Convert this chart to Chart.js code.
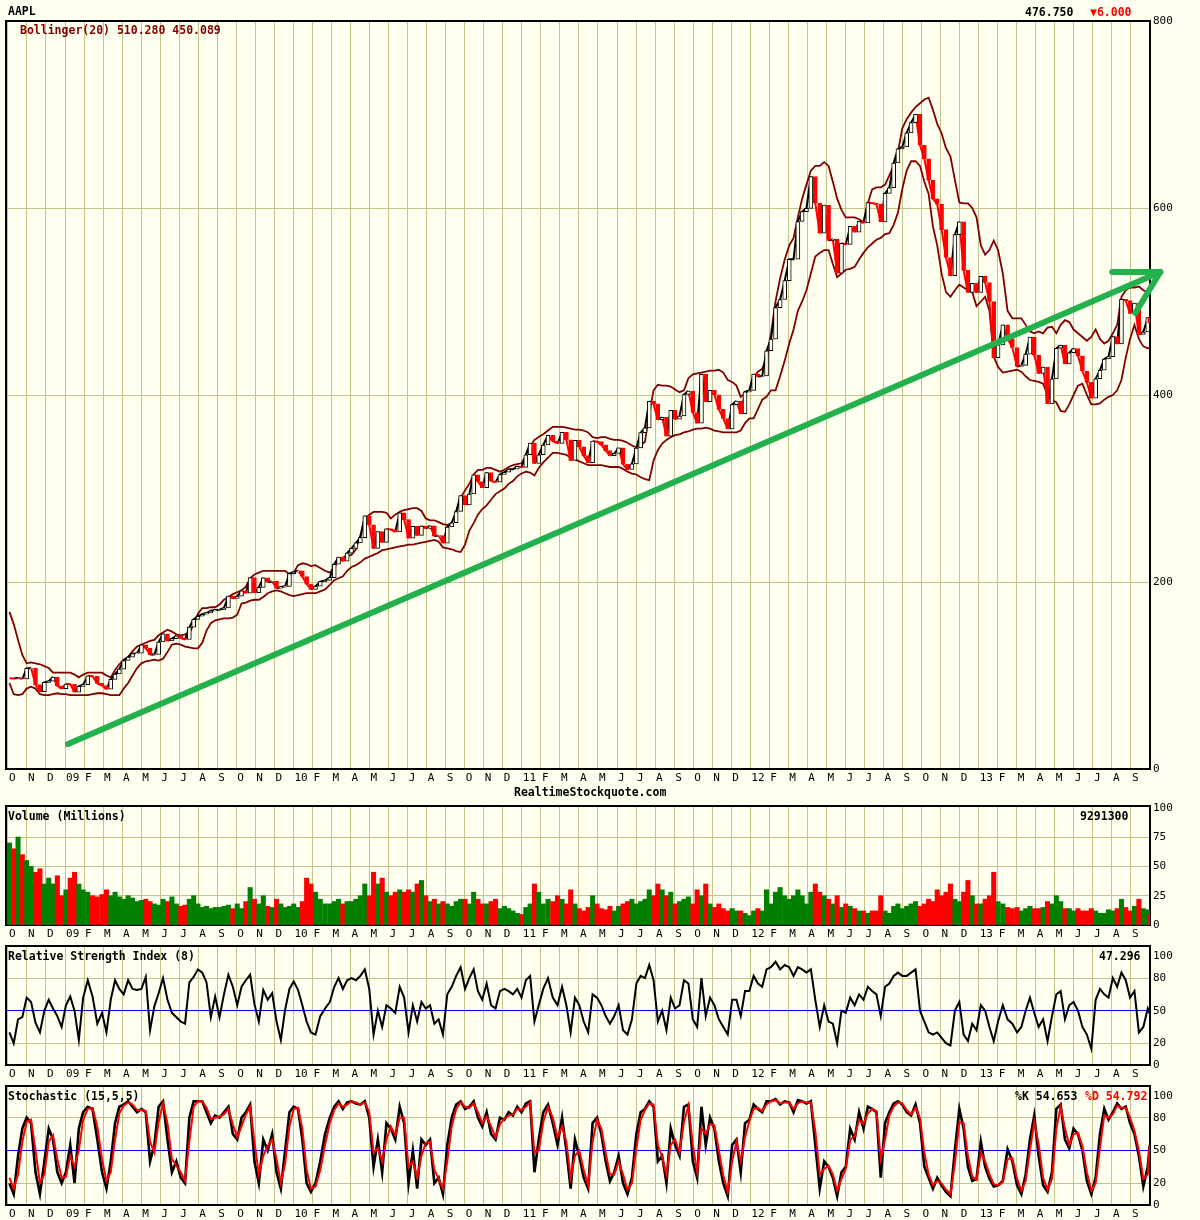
<!DOCTYPE html>
<html>
<head>
<meta charset="utf-8">
<script src="https://cdn.jsdelivr.net/npm/chart.js"></script>
<style>
body { margin: 0; background: #fffff0; }
#wrap { position: relative; width: 1200px; height: 1220px; overflow: hidden; background: #fffff0; font-family: "DejaVu Sans Mono", monospace; }
canvas { position: absolute; left: 0; }
.t { position: absolute; font-weight: bold; font-size: 11.5px; line-height: 12px; white-space: nowrap; z-index: 2; color: #000; }
</style>
</head>
<body>
<div id="wrap">
  <canvas id="cMain"></canvas>
  <canvas id="cVol"></canvas>
  <canvas id="cRsi"></canvas>
  <canvas id="cSto"></canvas>
  <div class="t" style="left:8px;top:5px">AAPL</div>
  <div class="t" style="left:1025px;top:6px">476.750</div>
  <div class="t" style="left:1090px;top:6px;color:#ff0000">▼6.000</div>
  <div class="t" style="left:20px;top:24px;color:#800000">Bollinger(20) 510.280 450.089</div>
  <div class="t" style="left:514px;top:786px">RealtimeStockquote.com</div>
  <div class="t" style="left:8px;top:810px">Volume (Millions)</div>
  <div class="t" style="left:1080px;top:810px">9291300</div>
  <div class="t" style="left:8px;top:950px">Relative Strength Index (8)</div>
  <div class="t" style="left:1099px;top:950px">47.296</div>
  <div class="t" style="left:8px;top:1090px">Stochastic (15,5,5)</div>
  <div class="t" style="left:1015px;top:1090px">%K 54.653</div>
  <div class="t" style="left:1085px;top:1090px;color:#ff0000">%D 54.792</div>
</div>
<script>
// month tick labels, Oct 2008 .. Sep 2013
const monthLabels = ['O','N','D',
  '09','F','M','A','M','J','J','A','S','O','N','D',
  '10','F','M','A','M','J','J','A','S','O','N','D',
  '11','F','M','A','M','J','J','A','S','O','N','D',
  '12','F','M','A','M','J','J','A','S','O','N','D',
  '13','F','M','A','M','J','J','A','S'];

// weekly (Friday) values from 2008-10-03, last entry = 2013-09-30
const closes = [
  97.1, 96.8, 97.4, 96.4, 107.6,   108.0, 90.2, 82.6, 92.7,   94.0, 98.3, 88.9, 85.8,
  90.8, 90.6, 82.3, 88.4, 90.1,   99.7, 99.2, 91.5, 89.3,   85.3, 95.9, 101.6, 106.9,
  116.0, 119.6, 123.4, 123.9,   132.7, 129.2, 122.4, 122.5, 135.8,   144.7, 137.0, 139.5, 142.4,
  140.0, 138.5, 151.8, 160.0, 163.4,   165.5, 166.8, 169.2, 170.1,   170.3, 172.2, 185.0, 182.4,
  184.9, 190.5, 188.1, 204.6, 188.5,   194.3, 204.5, 199.9, 200.6,   193.3, 194.7, 195.4, 209.0,
  210.7, 212.0, 205.9, 197.8, 192.1,   195.5, 200.4, 201.7, 204.6,   219.0, 226.6, 222.3, 230.9,
  236.0, 241.8, 247.4, 270.8, 261.1,   235.9, 253.8, 242.3, 256.9,   256.0, 253.5, 274.1, 266.7,
  246.9, 259.6, 249.9, 259.9, 257.3,   260.1, 249.1, 249.6, 241.6,   258.8, 263.4, 275.4, 292.3,
  282.5, 294.1, 314.7, 307.5, 301.0,   317.1, 308.0, 306.7, 315.0,   317.4, 320.6, 320.6, 323.6, 322.6,
  336.1, 348.5, 326.7, 336.1,   346.5, 356.9, 350.6, 348.2,   360.0, 352.0, 330.0, 351.5,
  344.6, 335.1, 327.5, 350.7, 350.1,   346.7, 340.5, 335.2, 337.4,   343.4, 325.9, 320.3, 326.4,
  343.3, 359.7, 364.9, 393.3, 390.5,   373.6, 376.2, 356.0, 383.6,   374.1, 377.5, 400.5, 404.3, 381.3,
  369.8, 422.0, 392.9, 405.0,   400.2, 384.6, 374.9, 363.6,   389.7, 393.6, 380.0, 403.4, 405.0,
  422.4, 419.8, 420.3, 447.3,   459.7, 493.4, 502.1, 522.4,   545.2, 545.2, 585.6, 596.1, 599.6,
  633.7, 605.2, 573.0, 603.0,   565.3, 566.7, 530.4, 562.3,   561.0, 580.3, 574.1, 585.7, 584.0,
  605.9, 605.0, 604.3, 585.2,   615.7, 621.7, 648.1, 663.2, 665.2,   680.4, 691.3, 700.1, 667.1,
  652.6, 629.7, 609.8, 604.0,   576.8, 547.1, 527.7, 571.5, 585.3,   533.3, 509.8, 519.3, 509.6,
  527.0, 520.3, 500.0, 439.9,   453.6, 475.0, 460.2, 450.8,   430.5, 431.7, 443.7, 461.9, 442.7,
  423.2, 429.8, 390.5, 417.2,   450.0, 453.0, 433.3, 445.2, 449.7,   441.8, 425.4, 413.5, 396.5,
  417.4, 426.5, 438.5, 441.0,   462.5, 454.5, 502.3, 501.0, 487.2,   498.2, 464.9, 467.4, 482.8,
  476.75
];

const bollUpper = [
  168, 155, 138, 122, 113,   114, 113, 112, 110,   108, 103, 103, 103,
  103, 103, 101, 98, 101,   103, 103, 103, 103,   100, 98, 106, 112,
  117, 120, 126, 131,   133, 135, 137, 138, 143,   146, 149, 147, 144,
  143, 144, 145, 155, 166,   172, 172, 173, 173,   176, 181, 184, 187,
  189, 191, 195, 204, 208,   210, 212, 212, 212,   212, 212, 212, 208,
  210, 218, 220, 219, 217,   218, 215, 212, 210,   215, 224, 226, 228,
  229, 235, 250, 268, 272,   275, 275, 275, 274,   268, 272, 275, 277,
  278, 279, 279, 276, 268,   266, 266, 264, 262,   261, 263, 275, 290,
  298, 305, 315, 320, 320,   322, 322, 320, 318,   320, 323, 325, 326, 327,
  335, 345, 352, 355,   358, 362, 366, 366,   366, 365, 364, 363,
  363, 362, 360, 355, 354,   355, 355, 353, 352,   352, 351, 349, 346,
  344, 346, 350, 380, 405,   411, 410, 410, 409,   406, 403, 405, 418, 422,
  423, 424, 425, 426,   426, 427, 424, 416,   414, 410, 398, 402, 405,
  418, 425, 428, 440,   465, 500, 525, 545,   560, 568, 590, 610, 625,
  640, 645, 645, 649,   645, 628, 610, 598,   590, 590, 590, 588, 585,
  605, 620, 622, 622,   625, 635, 645, 660, 685,   695, 702, 708, 712,
  716, 718, 705, 690,   680, 664, 655, 630, 606,   605, 605, 600, 590,
  560, 550, 555, 565,   555, 530, 490, 482,   482, 482, 475, 468, 466,
  468, 466, 472, 473,   466, 475, 480, 478, 470,   466, 462, 458, 462,
  470, 460, 455, 458,   466, 475, 505, 512, 515,   515, 516, 512, 510,
  510.28
];

const bollLower = [
  92, 80, 79, 80, 86,   88, 86, 80, 79,   79, 80, 81, 80,
  80, 79, 79, 79, 79,   79, 80, 81, 81,   80, 79, 79, 79,
  86, 92, 100, 108,   113, 115, 116, 117, 116,   118, 125, 133, 134,
  133, 131, 130, 129, 129,   135, 148, 156, 159,   160, 161, 161, 162,
  165, 177, 178, 180, 181,   181, 184, 188, 190,   191, 190, 188, 186,
  185, 186, 187, 188, 188,   188, 190, 192, 197,   202, 204, 206, 212,
  216, 218, 221, 225, 227,   229, 231, 234, 235,   236, 237, 238, 239,
  240, 240, 241, 242, 243,   244, 245, 243, 237,   236, 235, 233, 232,
  240, 255, 263, 272, 278,   282, 288, 294, 297,   300, 305, 308, 313, 316,
  318, 317, 314, 322,   328, 333, 338, 338,   337, 336, 333, 331,
  329, 327, 325, 325, 325,   325, 324, 323, 323,   323, 321, 318, 316,
  315, 312, 310, 309, 330,   341, 348, 352, 355,   357, 358, 360, 361, 363,
  364, 364, 365, 364,   362, 361, 360, 360,   360, 360, 362, 370, 375,
  375, 385, 395, 398,   405, 405, 420, 437,   455, 470, 490, 500, 512,
  530, 548, 552, 555,   555, 540, 526, 530,   534, 535, 537, 545, 552,
  558, 562, 566, 568,   572, 573, 582, 595, 620,   640, 650, 650, 645,
  628, 615, 580, 560,   530, 510, 505, 512, 518,   515, 512, 510, 495,
  500, 505, 490, 441,   430, 424, 425, 426,   427, 425, 420, 416, 415,
  414, 412, 400, 395,   392, 383, 382, 390, 400,   410, 412, 400, 390,
  390, 391, 395, 398,   400, 405, 416, 440, 460,   475, 460, 452, 450,
  450.09
];

const volume = [
  70, 65, 75, 60, 55,   50, 45, 48, 35,   40, 35, 42, 25,
  30, 40, 45, 35, 30,   28, 25, 24, 26,   30, 25, 28, 24,
  22, 25, 23, 20,   21, 22, 20, 18, 17,   22, 20, 24, 18,
  16, 17, 22, 25, 18,   15, 16, 14, 15,   15, 16, 17, 14,
  18, 14, 20, 32, 22,   18, 25, 16, 15,   22, 18, 15, 16,
  18, 15, 20, 40, 35,   28, 22, 18, 18,   20, 22, 18, 20,
  20, 22, 25, 35, 25,   45, 35, 40, 28,   25, 28, 30, 28,
  30, 28, 35, 38, 25,   20, 22, 18, 20,   18, 16, 20, 22,
  22, 18, 28, 22, 18,   18, 20, 22, 14,   16, 14, 12, 10, 9,
  15, 18, 35, 28,   18, 22, 20, 25,   22, 18, 30, 18,
  14, 12, 15, 25, 18,   14, 13, 16, 12,   16, 18, 20, 22,
  18, 20, 22, 30, 25,   35, 30, 25, 28,   18, 20, 22, 24, 18,
  30, 25, 35, 18,   15, 18, 14, 12,   14, 12, 12, 10, 8,
  12, 14, 12, 30,   18, 28, 32, 25,   22, 25, 30, 25, 18,
  28, 35, 28, 25,   22, 18, 25, 15,   18, 16, 14, 12, 12,
  10, 12, 12, 25,   12, 10, 16, 18, 14,   16, 18, 20, 16,
  18, 22, 20, 30,   25, 28, 35, 22, 20,   28, 38, 25, 18,
  18, 22, 25, 45,   20, 18, 15, 14,   15, 12, 14, 16, 14,
  14, 15, 20, 18,   25, 20, 14, 14, 12,   14, 12, 12, 14,
  12, 10, 10, 13,   12, 14, 22, 15, 12,   16, 22, 14, 13,
  9.29
];

const rsi = [
  30, 20, 42, 44, 62,   58, 39, 30, 50,   60, 52, 45, 35,
  55, 63, 50, 23, 62,   78, 63, 38, 48,   30, 60, 78, 70,
  65, 78, 70, 69,   70, 81, 32, 54, 66,   80, 60, 48, 44,
  40, 38, 76, 81, 88,   85, 76, 44, 63,   44, 65, 83, 72,
  55, 72, 78, 83, 56,   40, 69, 60, 66,   40, 23, 51, 70,
  77, 69, 55, 40, 30,   28, 45, 52, 58,   72, 80, 70, 78,
  80, 78, 82, 88, 70,   28, 50, 35, 55,   52, 48, 72, 62,
  30, 55, 40, 58, 52,   55, 38, 42, 28,   65, 72, 82, 90,
  70, 80, 88, 68, 60,   75, 55, 52, 68,   70, 68, 65, 70, 62,
  78, 82, 40, 55,   70, 80, 62, 55,   72, 55, 30, 62,
  55, 40, 30, 65, 62,   55, 45, 38, 45,   55, 32, 28, 42,
  75, 82, 80, 92, 78,   40, 50, 32, 62,   52, 55, 78, 75, 42,
  35, 80, 45, 62,   55, 42, 35, 28,   60, 60, 45, 68, 68,
  82, 75, 72, 88,   90, 95, 88, 92,   90, 82, 90, 88, 85,
  88, 60, 35, 55,   40, 38, 20, 50,   48, 62, 55, 65, 60,
  72, 68, 65, 45,   72, 75, 82, 85, 82,   82, 85, 88, 50,
  40, 30, 28, 30,   25, 20, 18, 50, 58,   28, 22, 38, 32,
  55, 50, 35, 22,   40, 55, 42, 38,   30, 35, 50, 62, 48,
  35, 42, 22, 45,   65, 68, 42, 55, 58,   50, 35, 28, 15,
  60, 70, 65, 62,   80, 72, 85, 78, 62,   68, 30, 35, 52,
  47.3
];

const stochK = [
  20, 10, 45, 70, 80,   75, 30, 10, 40,   70, 60, 30, 20,
  30, 55, 20, 70, 85,   90, 88, 60, 30,   15, 40, 75, 90,
  92, 95, 90, 85,   88, 85, 40, 55, 90,   95, 60, 30, 40,
  25, 20, 80, 95, 95,   95, 85, 75, 82,   80, 85, 90, 65,
  60, 80, 85, 92, 40,   20, 60, 50, 65,   30, 15, 50, 85,
  90, 88, 60, 20, 12,   20, 40, 65, 80,   90, 95, 88, 94,
  95, 93, 92, 95, 80,   35, 60, 30, 75,   70, 60, 90, 75,
  20, 50, 15, 60, 55,   60, 20, 25, 10,   55, 80, 92, 95,
  88, 90, 95, 80, 72,   85, 65, 60, 80,   78, 85, 82, 90, 85,
  93, 95, 30, 60,   85, 92, 75, 55,   80, 50, 15, 60,
  45, 25, 15, 75, 80,   65, 40, 22, 30,   45, 20, 10, 25,
  65, 85, 88, 95, 90,   40, 45, 20, 70,   55, 45, 90, 92, 40,
  25, 90, 55, 80,   70, 40, 20, 8,   55, 60, 30, 75, 78,
  92, 88, 85, 95,   95, 97, 92, 95,   94, 85, 96, 95, 93,
  95, 55, 15, 40,   35, 25, 8, 30,   35, 70, 60, 85, 70,
  90, 88, 85, 25,   75, 85, 93, 95, 92,   85, 82, 92, 75,
  35, 25, 15, 25,   18, 12, 8, 50, 88,   70, 35, 22, 24,
  58, 35, 24, 17,   18, 22, 51, 40,   18, 10, 28, 60, 82,
  45, 18, 12, 30,   88, 92, 60, 52, 70,   65, 50, 22, 10,
  25, 65, 88, 78,   85, 93, 88, 90, 75,   65, 45, 17, 35,
  54.65
];

const stochD = [
  25, 15, 28, 58, 76,   78, 50, 20, 28,   58, 64, 42, 25,
  26, 45, 35, 50, 78,   88, 89, 72, 42,   22, 30, 60, 84,
  91, 94, 92, 87,   87, 86, 58, 48, 76,   93, 75, 42, 36,
  30, 22, 58, 90, 95,   95, 89, 79, 80,   81, 83, 88, 74,
  62, 72, 83, 90, 58,   28, 45, 54, 60,   42, 20, 38, 72,
  88, 89, 70, 32, 15,   17, 32, 55, 75,   87, 93, 90, 92,
  95, 94, 92, 94, 85,   48, 52, 40, 60,   72, 64, 80, 80,
  35, 40, 25, 45, 57,   58, 32, 24, 15,   40, 72, 88, 94,
  90, 89, 93, 85, 75,   81, 72, 62, 74,   79, 82, 83, 88, 87,
  90, 94, 48, 50,   76, 90, 80, 62,   72, 58, 25, 45,
  50, 32, 18, 58, 78,   70, 48, 28, 28,   40, 28, 14, 20,
  52, 78, 87, 93, 92,   55, 44, 28, 55,   60, 48, 76, 91, 55,
  30, 70, 65, 74,   73, 50, 27, 12,   40, 58, 40, 62, 77,
  88, 89, 86, 92,   95, 96, 93, 94,   94, 88, 93, 95, 94,
  94, 68, 28, 33,   36, 28, 13, 24,   33, 60, 63, 78, 74,
  84, 88, 86, 42,   60, 82, 90, 94, 93,   87, 83, 89, 80,
  48, 28, 18, 22,   20, 14, 10, 38, 76,   75, 45, 26, 23,
  48, 40, 28, 19,   18, 21, 42, 43,   24, 13, 22, 50, 76,
  56, 25, 14, 24,   70, 90, 70, 55, 65,   66, 54, 30, 13,
  20, 52, 82, 80,   83, 91, 89, 89, 80,   68, 50, 24, 28,
  54.79
];

// hand-drawn green trend arrow, in (month, price) units
const trendX = [3.16, 60.54], trendY = [26.7, 531.6];
const arrowBarX = [58.02, 60.54], arrowBarY = [531.6, 531.6];
const arrowWingX = [59.23, 60.54], arrowWingY = [487.7, 531.6];

const priceTicks = [0, 200, 400, 600, 800];
const volTicks = [0, 25, 50, 75, 100];
const oscTicks = [0, 20, 50, 80, 100];

// ---------------------------------------------------------------
const GRID = '#c4c48a';
const NONE = 'rgba(0,0,0,0)';
const tickFont = {family: 'DejaVu Sans Mono', size: 11};
const DAY = 864e5;

function monthPos(i) {
  const t = Date.UTC(2008, 9, 3) + (i < 261 ? i * 7 : 260 * 7 + 3) * DAY;
  const d = new Date(t);
  const dim = new Date(Date.UTC(d.getUTCFullYear(), d.getUTCMonth() + 1, 0)).getUTCDate();
  return (d.getUTCFullYear() - 2008) * 12 + d.getUTCMonth() - 9 + (d.getUTCDate() - 0.5) / dim;
}
const xs = closes.map((_, i) => monthPos(i));
const pts = arr => arr.map((v, i) => ({x: xs[i], y: v}));
const pair = (ax, ay) => ax.map((x, i) => ({x, y: ay[i]}));
const down = closes.map((v, i) => i > 0 && v < closes[i - 1]);

const frame = {
  id: 'frame',
  beforeDatasetsDraw(c) {
    const {ctx, chartArea: a} = c;
    ctx.save();
    ctx.strokeStyle = '#000';
    ctx.lineWidth = 2;
    ctx.strokeRect(a.left, a.top, a.right - a.left, a.bottom - a.top);
    ctx.restore();
  }
};

const xAxis = () => ({
  type: 'linear', min: -0.1, max: 60, offset: false,
  afterBuildTicks: s => { s.ticks = monthLabels.map((_, m) => ({value: m})); },
  afterFit: s => { s.height = 16; },
  grid: {color: GRID, drawTicks: false, offset: false},
  border: {display: false},
  ticks: {align: 'start', labelOffset: 1, padding: 3, maxRotation: 0, autoSkip: false,
    color: '#000', font: tickFont, callback: v => monthLabels[v] ?? ''}
});

const yAxis = (min, max, ticks, colorOf) => ({
  type: 'linear', position: 'right', min, max,
  afterBuildTicks: s => { s.ticks = ticks.map(v => ({value: v})); },
  afterFit: s => { s.width = 50; },
  grid: {drawTicks: false, color: ctx => ctx.tick ? colorOf(ctx.tick.value) : NONE},
  border: {display: false},
  ticks: {padding: 3, color: '#000', font: tickFont}
});

function panel(id, top, plotTop, plotBottom, datasets, y) {
  const cv = document.getElementById(id);
  cv.style.top = top + 'px';
  cv.width = 1200;
  cv.height = plotBottom - top + 16;
  return new Chart(cv, {
    type: 'line',
    data: {datasets},
    options: {
      responsive: false, animation: false, devicePixelRatio: 1, events: [],
      layout: {padding: {top: plotTop - top, left: 6, right: 0, bottom: 0}},
      elements: {point: {radius: 0}, line: {tension: 0}},
      plugins: {legend: {display: false}, tooltip: {enabled: false}},
      scales: {x: xAxis(), y}
    },
    plugins: [frame]
  });
}

const green = {type: 'line', borderColor: '#22b14c', borderWidth: 6, borderCapStyle: 'round', clip: false};

// price panel
panel('cMain', 0, 21, 769, [
  {...green, data: pair(trendX, trendY)},
  {...green, data: pair(arrowBarX, arrowBarY)},
  {...green, data: pair(arrowWingX, arrowWingY)},
  {type: 'bar', data: closes.map((v, i) => ({x: xs[i], y: [i ? closes[i - 1] : v, v]})),
    backgroundColor: down.map(d => d ? '#ff0000' : '#fffff0'),
    borderColor: down.map(d => d ? '#ff0000' : '#000000'),
    borderWidth: 1, borderSkipped: false, barThickness: 4},
  {type: 'line', data: pts(closes), borderWidth: 2, borderColor: '#000',
    segment: {borderColor: c => c.p1.parsed.y < c.p0.parsed.y ? '#ff0000' : '#000000'}},
  {type: 'line', data: pts(bollUpper), borderColor: '#800000', borderWidth: 1.8},
  {type: 'line', data: pts(bollLower), borderColor: '#800000', borderWidth: 1.8}
], yAxis(0, 800, priceTicks, v => (v > 0 && v < 800) ? GRID : NONE));

// volume panel
panel('cVol', 790, 806, 925, [
  {type: 'bar', data: pts(volume), barThickness: 4.4,
    backgroundColor: down.map(d => d ? '#ff0000' : '#008000')}
], yAxis(0, 101.5, volTicks, v => (v > 0 && v < 100) ? GRID : NONE));

// RSI panel
panel('cRsi', 930, 946, 1065, [
  {type: 'line', data: pts(rsi), borderColor: '#000', borderWidth: 2}
], yAxis(0, 109.5, oscTicks, v => v === 50 ? '#0000ff' : (v === 20 || v === 80) ? GRID : NONE));

// stochastic panel
panel('cSto', 1070, 1086, 1205, [
  {type: 'line', data: pts(stochD), borderColor: '#ff0000', borderWidth: 2},
  {type: 'line', data: pts(stochK), borderColor: '#000', borderWidth: 2.6}
], yAxis(0, 109, oscTicks, v => v === 50 ? '#0000ff' : (v === 20 || v === 80) ? GRID : NONE));
</script>
</body>
</html>
